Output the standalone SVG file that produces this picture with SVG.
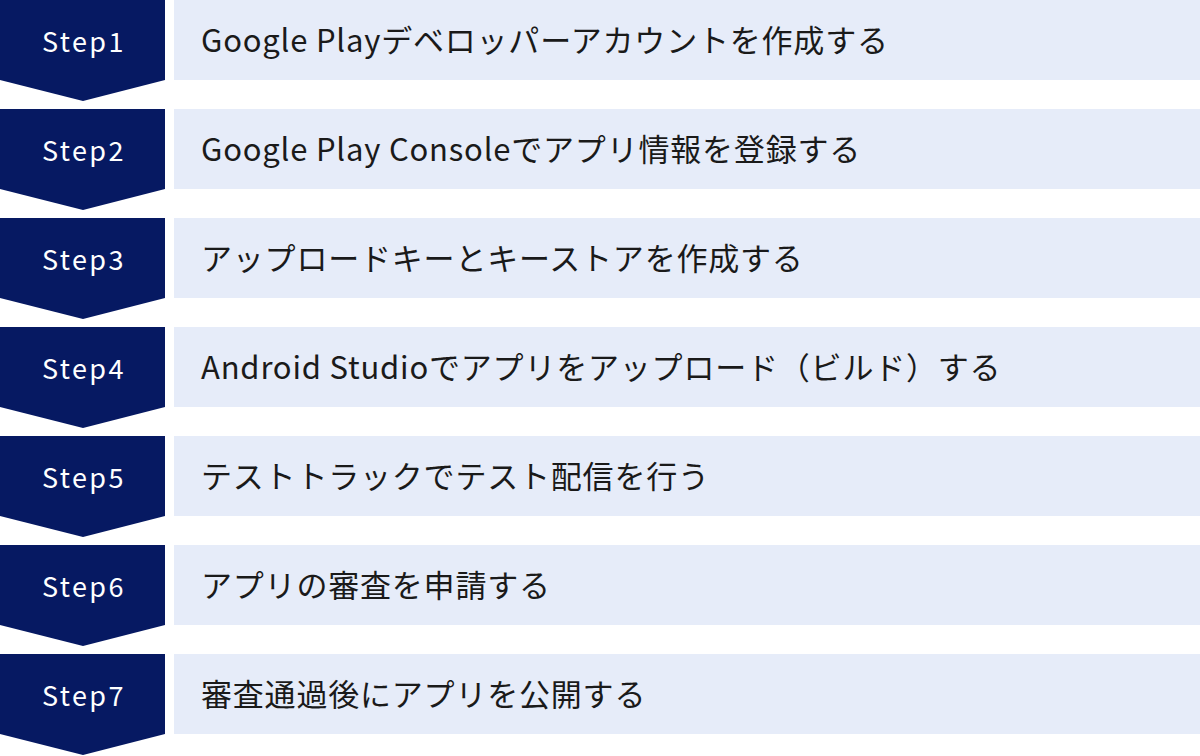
<svg xmlns="http://www.w3.org/2000/svg" width="1200" height="756" viewBox="0 0 1200 756">
<style>
.chev{fill:#061962}
.bar{fill:#e6ecf9}
.st{font-family:"Noto Sans CJK JP","Noto Sans",sans-serif;font-size:27px;fill:#ffffff;text-anchor:middle;letter-spacing:2.4px}
.tx{font-family:"Noto Sans CJK JP","Noto Sans",sans-serif;font-size:31px;fill:#1a1a1a;letter-spacing:0.8px}
</style>
<defs>
<polygon id="chev" points="0,0 165,0 165,80 83,101 0,80"/>
</defs>
<rect width="1200" height="756" fill="#ffffff"/>
<g id="step1" transform="translate(0,0)">
<use href="#chev" class="chev"/><rect class="bar" x="174" y="0" width="1026" height="80"/>
<text class="st" x="84" y="52">Step1</text><text class="tx" x="201" y="52">Google Playデベロッパーアカウントを作成する</text>
</g>
<g id="step2" transform="translate(0,109)">
<use href="#chev" class="chev"/><rect class="bar" x="174" y="0" width="1026" height="80"/>
<text class="st" x="84" y="52">Step2</text><text class="tx" x="201" y="52">Google Play Consoleでアプリ情報を登録する</text>
</g>
<g id="step3" transform="translate(0,218)">
<use href="#chev" class="chev"/><rect class="bar" x="174" y="0" width="1026" height="80"/>
<text class="st" x="84" y="52">Step3</text><text class="tx" x="201" y="52">アップロードキーとキーストアを作成する</text>
</g>
<g id="step4" transform="translate(0,327)">
<use href="#chev" class="chev"/><rect class="bar" x="174" y="0" width="1026" height="80"/>
<text class="st" x="84" y="52">Step4</text><text class="tx" x="201" y="52">Android Studioでアプリをアップロード（ビルド）する</text>
</g>
<g id="step5" transform="translate(0,436)">
<use href="#chev" class="chev"/><rect class="bar" x="174" y="0" width="1026" height="80"/>
<text class="st" x="84" y="52">Step5</text><text class="tx" x="201" y="52">テストトラックでテスト配信を行う</text>
</g>
<g id="step6" transform="translate(0,545)">
<use href="#chev" class="chev"/><rect class="bar" x="174" y="0" width="1026" height="80"/>
<text class="st" x="84" y="52">Step6</text><text class="tx" x="201" y="52">アプリの審査を申請する</text>
</g>
<g id="step7" transform="translate(0,654)">
<use href="#chev" class="chev"/><rect class="bar" x="174" y="0" width="1026" height="80"/>
<text class="st" x="84" y="52">Step7</text><text class="tx" x="201" y="52">審査通過後にアプリを公開する</text>
</g>
<g id="connectors"></g>
</svg>
